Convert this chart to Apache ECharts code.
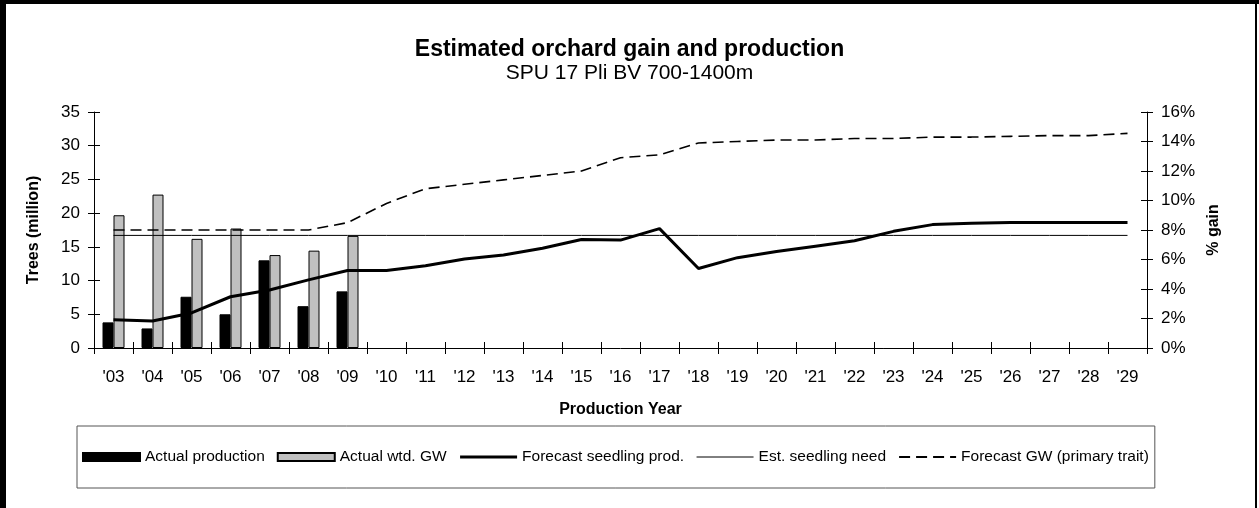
<!DOCTYPE html>
<html>
<head>
<meta charset="utf-8">
<style>
  html, body { margin: 0; padding: 0; background: #fff; }
  #chart { width: 1259px; height: 508px; }
</style>
<script src="https://cdn.jsdelivr.net/npm/echarts@6/dist/echarts.min.js"></script>
</head>
<body>
<div id="chart"></div>
<script>
// Production years
const years = ["'03","'04","'05","'06","'07","'08","'09","'10","'11","'12","'13","'14","'15","'16",
               "'17","'18","'19","'20","'21","'22","'23","'24","'25","'26","'27","'28","'29"];

// Trees (million), left axis
const actualProduction = [3.8, 2.9, 7.6, 5.0, 13.0, 6.2, 8.4];
const forecastSeedlingProd = [4.2, 4.0, 5.2, 7.6, 8.6, 10.1, 11.5, 11.5, 12.2, 13.2, 13.8, 14.8, 16.1, 16.0,
                              17.7, 11.8, 13.4, 14.3, 15.1, 15.9, 17.3, 18.3, 18.5, 18.6, 18.6, 18.6, 18.6];
const estSeedlingNeed = 16.7;

// % gain, right axis
const actualWtdGW = [9.0, 10.4, 7.4, 8.1, 6.3, 6.6, 7.6];
const forecastGW = [8.0, 8.0, 8.0, 8.0, 8.0, 8.0, 8.5, 9.8, 10.8, 11.1, 11.4, 11.7, 12.0, 12.9,
                    13.1, 13.9, 14.0, 14.1, 14.1, 14.2, 14.2, 14.3, 14.3, 14.35, 14.4, 14.4, 14.55];

// Axis tick settings
const leftMin = 0, leftMax = 35, leftStep = 5;
const rightMin = 0, rightMax = 16, rightStep = 2;

const FONT = "'Liberation Sans', Arial, sans-serif";
const chart = echarts.init(document.getElementById('chart'), null, { renderer: 'canvas' });

const grid = { left: 94, right: 112, top: 112, bottom: 160, containLabel: false };
const axisLine = { show: true, lineStyle: { color: '#000', width: 1 } };
const tickOut = { show: true, inside: false, length: 6, lineStyle: { color: '#000', width: 1 } };
const tickIn = { show: true, inside: true, length: 6, lineStyle: { color: '#000', width: 1 } };
const labelStyle = { color: '#000', fontFamily: FONT, fontSize: 17 };
const nameStyle = { color: '#000', fontFamily: FONT, fontSize: 16, fontWeight: 'bold' };
// line legend entries show only the stroke, no marker
const noMarker = { opacity: 0 };

chart.setOption({
  backgroundColor: '#fff',
  animation: false,
  title: [
    { text: 'Estimated orchard gain and production', left: 'center', top: 33,
      textStyle: { fontFamily: FONT, fontSize: 23, fontWeight: 'bold', color: '#000' } },
    { text: 'SPU 17 Pli BV 700-1400m', left: 'center', top: 58,
      textStyle: { fontFamily: FONT, fontSize: 21, fontWeight: 'normal', color: '#000' } }
  ],
  legend: {
    left: 77, top: 426, width: 1079,
    padding: [23, 6, 23, 5],
    borderColor: '#555', borderWidth: 1,
    itemWidth: 57, itemHeight: 8, itemGap: 12,
    textStyle: { fontFamily: FONT, fontSize: 15.5, color: '#000' },
    data: [
      { name: 'Actual production', icon: 'rect' },
      { name: 'Actual wtd. GW', icon: 'rect' },
      { name: 'Forecast seedling prod.', itemStyle: noMarker, lineStyle: { width: 3 } },
      { name: 'Est. seedling need', itemStyle: noMarker, lineStyle: { width: 1 } },
      { name: 'Forecast GW (primary trait)', itemStyle: noMarker, lineStyle: { width: 2 } }
    ]
  },
  grid: grid,
  xAxis: [
    { type: 'category', data: years, boundaryGap: true, position: 'bottom',
      axisLine: axisLine, axisTick: tickOut, splitLine: { show: false },
      axisLabel: Object.assign({ margin: 21, interval: 0 }, labelStyle),
      name: 'Production Year', nameLocation: 'middle', nameGap: 54, nameTextStyle: nameStyle },
    { type: 'category', data: years, boundaryGap: true, position: 'bottom',
      axisLine: { show: false }, axisTick: tickIn, axisLabel: { show: false }, splitLine: { show: false } }
  ],
  yAxis: [
    { type: 'value', position: 'left', min: leftMin, max: leftMax, interval: leftStep,
      axisLine: axisLine, axisTick: tickOut, splitLine: { show: false },
      axisLabel: Object.assign({ margin: 14 }, labelStyle),
      name: 'Trees (million)', nameLocation: 'middle', nameGap: 52, nameTextStyle: nameStyle },
    { type: 'value', position: 'right', min: rightMin, max: rightMax, interval: rightStep,
      axisLine: axisLine, axisTick: tickOut, splitLine: { show: false },
      axisLabel: Object.assign({ margin: 14, formatter: '{value}%' }, labelStyle),
      name: '% gain', nameLocation: 'middle', nameGap: 57, nameTextStyle: nameStyle },
    { type: 'value', position: 'left', min: leftMin, max: leftMax, interval: leftStep,
      axisLine: { show: false }, axisTick: tickIn, axisLabel: { show: false }, splitLine: { show: false } },
    { type: 'value', position: 'right', min: rightMin, max: rightMax, interval: rightStep,
      axisLine: { show: false }, axisTick: tickIn, axisLabel: { show: false }, splitLine: { show: false } }
  ],
  series: [
    { name: 'Actual production', type: 'bar', xAxisIndex: 0, yAxisIndex: 0,
      data: actualProduction, barWidth: 11, barGap: '0%',
      itemStyle: { color: '#000', borderColor: '#000', borderWidth: 1 }, z: 2 },
    { name: 'Actual wtd. GW', type: 'bar', xAxisIndex: 0, yAxisIndex: 1,
      data: actualWtdGW, barWidth: 11, barGap: '0%',
      itemStyle: { color: '#c0c0c0', borderColor: '#000', borderWidth: 1 }, z: 2 },
    { name: 'Forecast seedling prod.', type: 'line', xAxisIndex: 0, yAxisIndex: 0,
      data: forecastSeedlingProd, symbol: 'none',
      lineStyle: { color: '#000', width: 3 }, itemStyle: { color: '#000' }, z: 4 },
    { name: 'Est. seedling need', type: 'line', xAxisIndex: 0, yAxisIndex: 0,
      data: years.map(() => estSeedlingNeed), symbol: 'none',
      lineStyle: { color: '#000', width: 1 }, itemStyle: { color: '#000' }, z: 3 },
    { name: 'Forecast GW (primary trait)', type: 'line', xAxisIndex: 0, yAxisIndex: 1,
      data: forecastGW, symbol: 'none',
      lineStyle: { color: '#000', width: 1.6, type: [11, 6] }, itemStyle: { color: '#000' }, z: 3 }
  ],
  graphic: [
    { type: 'rect', left: 0, top: 0, shape: { width: 6, height: 508 }, style: { fill: '#000' }, silent: true },
    { type: 'rect', left: 0, top: 0, shape: { width: 1259, height: 4 }, style: { fill: '#000' }, silent: true },
    { type: 'rect', left: 1255, top: 0, shape: { width: 2, height: 508 }, style: { fill: '#000' }, silent: true }
  ]
});
</script>
</body>
</html>
